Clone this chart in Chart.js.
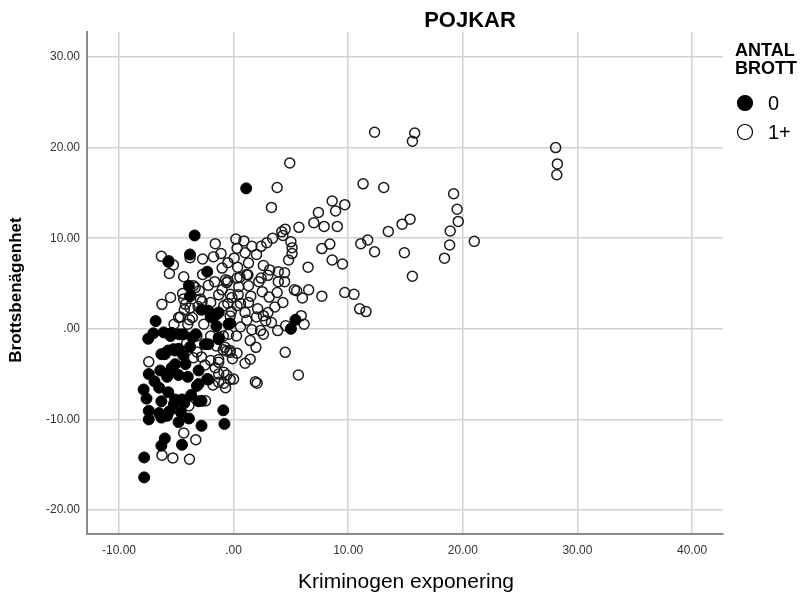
<!DOCTYPE html>
<html>
<head>
<meta charset="utf-8">
<script src="https://cdn.jsdelivr.net/npm/chart.js@4"></script>
<style>
  html, body { margin: 0; padding: 0; background: #fff; }
  #wrap { width: 805px; height: 599px; }
</style>
</head>
<body>
<div id="wrap"><canvas id="chart" width="805" height="599"></canvas></div>
<script>
// ANTAL BROTT = 0 (filled markers)
const zeroX = [1.1,-3.4,-3.8,-5.7,-2.3,-3.9,-3.8,-2.8,-2.2,-1.3,
  -1.5,-1.75,-2.0,-0.3,-0.45,-1.5,-6.8,5.0,5.4,-7.45,
  -6.1,-5.4,-5.5,-4.75,-4.4,-3.6,-3.3,-2.2,-1.3,-1.3,
  -2.5,-5.1,-6.0,-5.7,-6.3,-4.8,-5.25,-4.4,-3.8,-6.0,
  -7.4,-5.8,-5.1,-4.2,-3.05,-2.2,-6.4,-5.4,-5.8,-4.8,
  -4.0,-3.05,-2.3,-7.85,-6.5,-7.6,-5.7,-5.1,-3.7,-3.2,
  -4.5,-2.8,-6.3,-5.2,-4.3,-3.05,-7.4,-7.4,-6.3,-5.8,
  -4.8,-6.5,-5.6,-2.8,-0.9,-0.8,-6.0,-6.3,-4.5,-7.8,
  -7.8,-4.6,-3.9,-6.9,-7.0];
const zeroY = [15.5,10.3,8.2,7.4,6.3,4.75,3.6,2.1,2.0,1.8,
  1.6,1.3,1.3,0.6,0.5,0.3,0.85,0.0,1.0,-1.1,
  -0.4,-0.45,-0.8,-0.6,-0.6,-0.95,-0.6,-1.7,-1.15,-0.95,
  -1.7,-2.4,-2.8,-2.4,-2.8,-2.2,-2.25,-2.9,-2.0,-2.7,
  -5.0,-5.0,-3.9,-3.9,-4.6,-5.6,-4.6,-4.3,-5.3,-5.1,
  -5.3,-6.1,-5.55,-6.7,-6.5,-7.7,-7.0,-7.8,-7.3,-6.3,
  -7.8,-7.95,-8.0,-8.3,-8.2,-8.0,-9.05,-10.0,-9.8,-9.6,
  -10.3,-9.3,-9.1,-10.7,-9.0,-10.5,-12.1,-12.9,-12.8,-14.2,
  -16.4,-9.2,-9.9,-5.8,-0.5];

// ANTAL BROTT = 1+ (open markers)
const plusX = [12.3,15.8,15.6,28.1,28.25,28.2,11.3,13.1,8.6,9.7,
  8.9,19.2,19.5,19.6,18.9,18.85,18.4,21.0,15.4,14.7,
  13.5,11.7,11.1,12.3,14.9,15.6,9.05,8.4,8.6,9.5,
  9.7,10.5,11.0,11.55,4.9,3.8,3.3,7.4,7.0,7.9,
  5.7,4.5,4.2,4.3,3.4,2.9,2.4,5.0,5.1,5.1,
  4.8,7.7,6.5,1.6,0.9,0.2,0.3,-1.6,-1.1,-1.75,
  -2.7,-1.0,0.05,0.35,1.3,1.15,2.4,3.15,3.9,4.45,
  3.9,4.45,5.3,6.55,7.7,-1.65,-0.5,0.45,1.3,-1.3,
  0.4,2.5,3.1,-0.6,1.25,0.55,2.2,3.0,3.8,5.5,
  6.0,-0.15,1.3,0.6,-0.5,1.5,1.15,2.0,2.6,2.8,
  2.35,2.6,3.85,4.55,5.9,6.15,1.45,1.95,4.5,5.65,
  1.9,2.05,1.45,1.0,-0.6,-0.3,-0.1,-0.6,0.0,-0.7,
  -1.3,-1.3,-6.3,-5.25,-5.6,-2.7,-4.35,-3.5,-4.45,-5.5,
  -6.25,-4.2,-2.75,-3.1,-4.65,-3.85,-0.45,-7.4,-2.45,-1.3,
  -0.3,-0.85,-4.35,-3.3,-6.25,-5.3,-3.85,-5.65,-3.8,-0.7,
  0.3,-3.35,-4.35,-2.9,-0.3,0.3,-0.85,-2.0,-3.8,-4.8,
  -3.6,-0.3,-5.2,-4.0,-2.6,-3.2,-2.0,-0.9,0.25,-0.9,
  -0.3,0.3,-3.2,-0.75,-4.3,-0.85,-1.6,-2.0,-3.5,-2.5,
  -1.8,-3.9,0.6,1.6,3.3,3.0,3.6,4.3,2.1,1.0,
  -0.2,-1.3,-1.5,-2.8,-4.1,-3.0,-2.2,-1.0,2.0,1.0,
  -0.5,2.6];
const plusY = [21.7,21.6,20.7,20.0,18.2,17.0,16.0,15.6,14.1,13.7,
  13.0,14.9,13.2,11.85,10.8,9.25,7.8,9.65,12.1,11.55,
  10.75,9.8,9.4,8.5,8.4,5.8,11.3,9.35,7.6,7.15,
  4.0,3.8,2.2,1.9,18.3,15.6,13.4,12.85,11.7,11.3,
  11.2,11.0,10.7,10.3,10.0,9.5,9.1,9.6,8.95,8.3,
  7.6,8.85,6.8,9.1,9.7,9.9,8.9,9.4,8.3,7.95,
  7.7,6.7,7.8,6.8,7.25,6.0,5.6,6.5,6.3,6.2,
  5.2,5.2,4.3,4.3,3.6,5.2,5.3,4.65,4.75,3.75,
  3.75,4.1,3.5,5.1,5.95,5.7,5.2,5.9,4.0,4.2,
  3.4,3.45,2.9,2.8,2.8,3.6,0.95,1.3,1.45,0.9,
  -0.2,-0.6,-0.2,0.35,1.45,0.5,-1.3,-2.05,-2.6,-5.1,
  -5.85,-6.0,-3.35,-3.8,-2.45,-2.6,-3.3,-5.1,-5.55,-6.5,
  -3.4,-5.9,8.0,7.05,6.1,6.0,5.75,4.75,3.9,3.45,
  2.7,2.7,3.0,2.45,1.3,1.0,-0.6,-3.65,-7.95,-3.7,
  -5.6,-6.0,-11.5,-12.25,-13.95,-14.25,-14.4,7.5,7.85,5.4,
  5.6,4.55,3.3,3.3,3.8,2.55,2.55,2.9,2.3,1.25,
  1.25,1.4,0.5,0.5,0.5,-0.8,-0.8,-0.8,-0.8,-2.3,
  -2.4,-2.7,-2.55,-2.05,2.1,-4.8,-4.3,-3.5,-3.2,-4.0,
  -6.2,-8.5,0.2,-0.1,0.7,1.8,2.4,2.9,2.2,1.8,
  1.9,-5.0,-1.9,-3.1,-1.6,4.2,4.8,4.3,8.2,8.4,
  7.3,7.0];

const groupLabels = ['0', '1+'];
const xTickValues = [-10, 0, 10, 20, 30, 40];
const xTickLabels = ['-10.00', '.00', '10.00', '20.00', '30.00', '40.00'];
const yTickValues = [-20, -10, 0, 10, 20, 30];
const yTickLabels = ['-20.00', '-10.00', '.00', '10.00', '20.00', '30.00'];

const FONT = 'Arial, "Liberation Sans", sans-serif';

function toPoints(xs, ys) {
    return xs.map((x, i) => ({ x: x, y: ys[i] }));
}

// titles and the ANTAL BROTT legend
const textPlugin = {
    id: 'texts',
    afterDraw(chart) {
        const ctx = chart.ctx;
        ctx.save();
        ctx.fillStyle = '#000';
        ctx.textBaseline = 'middle';

        ctx.font = 'bold 22px ' + FONT;
        ctx.textAlign = 'center';
        ctx.fillText('POJKAR', 470, 21);

        ctx.font = '21px ' + FONT;
        ctx.fillText('Kriminogen exponering', 406, 582);

        ctx.save();
        ctx.translate(16, 290);
        ctx.rotate(-Math.PI / 2);
        ctx.font = 'bold 17px ' + FONT;
        ctx.fillText('Brottsbenägenhet', 0, 0);
        ctx.restore();

        ctx.textAlign = 'left';
        ctx.font = 'bold 18px ' + FONT;
        ctx.fillText('ANTAL', 735, 51);
        ctx.fillText('BROTT', 735, 69);

        ctx.font = '20px ' + FONT;
        chart.data.datasets.forEach((ds, i) => {
            const cy = 103 + i * 29;
            ctx.beginPath();
            ctx.arc(745, cy, 7.5, 0, Math.PI * 2);
            if (ds.backgroundColor !== 'transparent') {
                ctx.fillStyle = ds.backgroundColor;
                ctx.fill();
            }
            ctx.lineWidth = 1.2;
            ctx.strokeStyle = '#000';
            ctx.stroke();
            ctx.fillStyle = '#000';
            ctx.fillText(groupLabels[i], 768, cy + 1);
        });
        ctx.restore();
    }
};

const ctx = document.getElementById('chart').getContext('2d');
new Chart(ctx, {
    type: 'scatter',
    data: {
        datasets: [{
            label: groupLabels[0],
            data: toPoints(zeroX, zeroY),
            backgroundColor: '#000',
            borderColor: '#000',
            borderWidth: 1,
            pointRadius: 5.5
        }, {
            label: groupLabels[1],
            data: toPoints(plusX, plusY),
            backgroundColor: 'transparent',
            borderColor: '#1a1a1a',
            borderWidth: 1.5,
            pointRadius: 5
        }]
    },
    options: {
        responsive: false,
        animation: false,
        devicePixelRatio: 1,
        layout: { padding: { left: 0, right: 82, top: 32, bottom: 0 } },
        plugins: { legend: { display: false }, tooltip: { enabled: false } },
        scales: {
            x: {
                type: 'linear',
                min: -12.79,
                max: 42.7,
                afterFit: (scale) => { scale.height = 65; },
                afterBuildTicks: (scale) => { scale.ticks = xTickValues.map(v => ({ value: v })); },
                grid: { color: '#d2d2d2', lineWidth: 1.5, drawTicks: false },
                border: { color: '#8a8a8a', width: 2 },
                ticks: {
                    padding: 9,
                    color: '#333',
                    font: { family: FONT, size: 12 },
                    callback: (v) => xTickLabels[xTickValues.indexOf(v)]
                }
            },
            y: {
                type: 'linear',
                min: -22.65,
                max: 32.76,
                afterFit: (scale) => { scale.width = 87; },
                afterBuildTicks: (scale) => { scale.ticks = yTickValues.map(v => ({ value: v })); },
                grid: { color: '#d2d2d2', lineWidth: 1.5, drawTicks: false },
                border: { color: '#8a8a8a', width: 2 },
                ticks: {
                    padding: 7,
                    color: '#333',
                    font: { family: FONT, size: 12 },
                    callback: (v) => yTickLabels[yTickValues.indexOf(v)]
                }
            }
        }
    },
    plugins: [textPlugin]
});
</script>
</body>
</html>
